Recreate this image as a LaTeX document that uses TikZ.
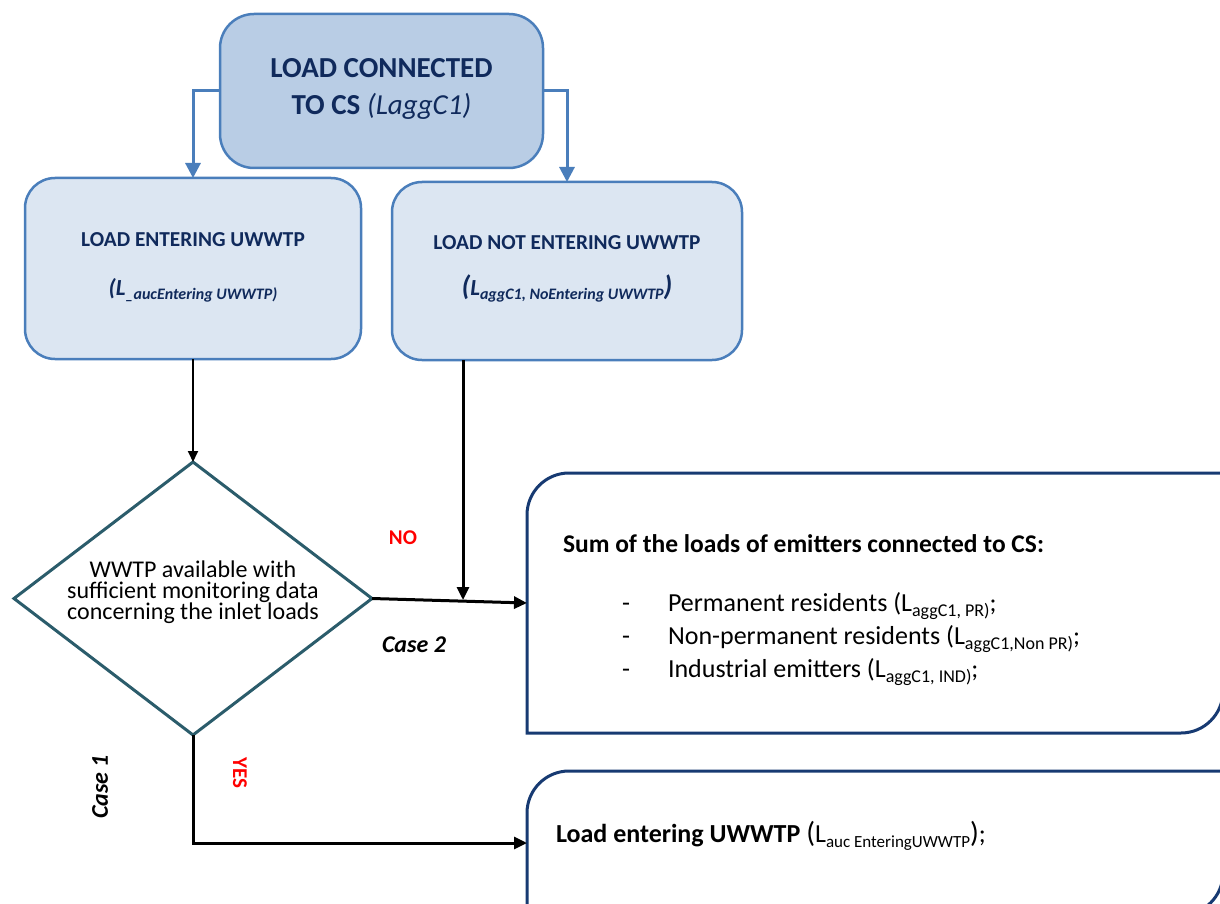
\documentclass[tikz,border=0pt]{standalone}
\usepackage{fontspec}
\setmainfont{Carlito}
\usetikzlibrary{shapes.geometric,arrows.meta}

\definecolor{navytext}{HTML}{102A5C}
\definecolor{boxblue}{HTML}{4A7EBB}
\definecolor{headfill}{HTML}{B9CDE5}
\definecolor{subfill}{HTML}{DCE6F2}
\definecolor{choiceteal}{HTML}{2B5C6B}
\definecolor{resultnavy}{HTML}{173A72}

% small lowered index text
\newcommand{\lsub}[2]{\raisebox{-0.2em}{\fontsize{#1}{#1}\selectfont #2}}
% centred lines that take no room in their node
\newcommand{\flatlines}[2]{\makebox[0pt]{\raisebox{#1}[0pt][0pt]{\begin{tabular}{@{}c@{}}#2\end{tabular}}}}

\begin{document}
\begin{tikzpicture}[x=1pt, y=-1pt, line join=miter,
	every node/.style={inner sep=0pt, outer sep=0pt, align=center},
	headbox/.style={draw=boxblue, line width=2.5pt, fill=headfill, rounded corners=34pt, text=navytext},
	subbox/.style={draw=boxblue, line width=2.5pt, fill=subfill, rounded corners=30pt, text=navytext},
	choice/.style={diamond, draw=choiceteal, line width=3pt, fill=white},
	bluearrow/.style={draw=boxblue, line width=3pt, -{Triangle[length=15pt, width=15pt]}},
	flowarrow/.style={line width=3pt, -{Triangle[length=13pt, width=12pt]}},
	thinarrow/.style={line width=1.8pt, -{Triangle[length=11pt, width=10pt]}},
	resultline/.style={draw=resultnavy, line width=3pt},
	answer/.style={text=red, font=\fontsize{21}{21}\selectfont\bfseries},
	casename/.style={font=\fontsize{24}{24}\selectfont\bfseries\itshape}]

	\useasboundingbox (0,0) rectangle (1220,904);
	\clip (0,0) rectangle (1220,904);

	% Top box and the two branches
	\node[headbox, minimum width=323pt, minimum height=154pt, font=\fontsize{29}{37}\selectfont\bfseries] (load) at (381.5,91)
		{\flatlines{-3.5pt}{LOAD CONNECTED\\ TO CS \mdseries\itshape (LaggC1)}};
	\node[subbox, minimum width=336pt, minimum height=181pt, font=\fontsize{21.3}{24}\selectfont\bfseries] (entering) at (193,268.5)
		{\flatlines{-3pt}{LOAD ENTERING UWWTP\\[24pt]
		\itshape {\fontsize{23}{23}\selectfont(L}\lsub{16}{\_aucEntering UWWTP)}}};
	\node[subbox, minimum width=350pt, minimum height=178pt, font=\fontsize{21.3}{24}\selectfont\bfseries] (notentering) at (567,271)
		{\flatlines{-1.5pt}{LOAD NOT ENTERING UWWTP\\[18pt]
		\itshape {\fontsize{28}{28}\selectfont(}{\fontsize{23}{23}\selectfont L}\lsub{16}{aggC1, NoEntering UWWTP}{\fontsize{28}{28}\selectfont)}}};

	\draw[bluearrow] (load.west) -| (entering.north);
	\draw[bluearrow] (load.east) -| (notentering.north);

	% Decision
	\node[choice, minimum width=358pt, minimum height=273pt, font=\fontsize{24}{21.5}\selectfont] (check) at (193,598.5)
		{\flatlines{-1pt}{WWTP available with\\[-2.5pt]
		sufficient monitoring data\\[-2.5pt]
		concerning the inlet loads}};
	\draw[thinarrow] (entering.south) -- (check.north);

	% Result boxes
	\node[minimum width=696pt, minimum height=260pt] (sum) at (875,603) {};
	\draw[resultline] (sum.south west) -- ([yshift=-42pt]sum.north west) arc[start angle=180, end angle=90, radius=42pt]
		-- (sum.north east) -- ([yshift=42pt]sum.south east) arc[start angle=0, end angle=-90, radius=42pt] -- cycle;
	\node[minimum width=696pt, minimum height=144pt] (auc) at (875,843) {};
	\draw[resultline] (auc.south west) -- ([yshift=-42pt]auc.north west) arc[start angle=180, end angle=90, radius=42pt]
		-- (auc.north east) -- ([yshift=42pt]auc.south east) arc[start angle=0, end angle=-90, radius=42pt] -- cycle;

	\node[anchor=base west, font=\fontsize{25.5}{25.5}\selectfont\bfseries] (sumtitle) at (563,552)
		{Sum of the loads of emitters connected to CS:};
	\node[anchor=base west, font=\fontsize{26}{26}\selectfont] (pr) at (622,611)
		{\makebox[46pt][l]{-}Permanent residents (L\lsub{18}{aggC1, PR)};};
	\node[anchor=base west, font=\fontsize{26}{26}\selectfont] (nonpr) at (622,644)
		{\makebox[46pt][l]{-}Non-permanent residents (L\lsub{18}{aggC1,Non PR)};};
	\node[anchor=base west, font=\fontsize{26}{26}\selectfont] (ind) at (622,677)
		{\makebox[46pt][l]{-}Industrial emitters (L\lsub{18}{aggC1, IND)};};
	\node[anchor=base west, font=\fontsize{26}{26}\selectfont] (auctext) at (556,842)
		{\textbf{Load entering UWWTP} {\fontsize{29}{29}\selectfont(}L\lsub{17}{auc EnteringUWWTP}{\fontsize{29}{29}\selectfont)};};

	% Connectors
	\coordinate (nojoin) at (463,600);
	\draw[flowarrow] (check.east) -- (sum.west);
	\draw[flowarrow] (nojoin |- notentering.south) -- (nojoin);
	\draw[flowarrow] (check.south) |- (auc.west);

	% Labels
	\node[answer] (nolabel) at (403,538) {NO};
	\node[answer, rotate=-90] (yeslabel) at (240,773) {YES};
	\node[casename] (case2) at (414,645) {Case 2};
	\node[casename, rotate=90] (case1) at (100,787) {Case 1};
\end{tikzpicture}
\end{document}
